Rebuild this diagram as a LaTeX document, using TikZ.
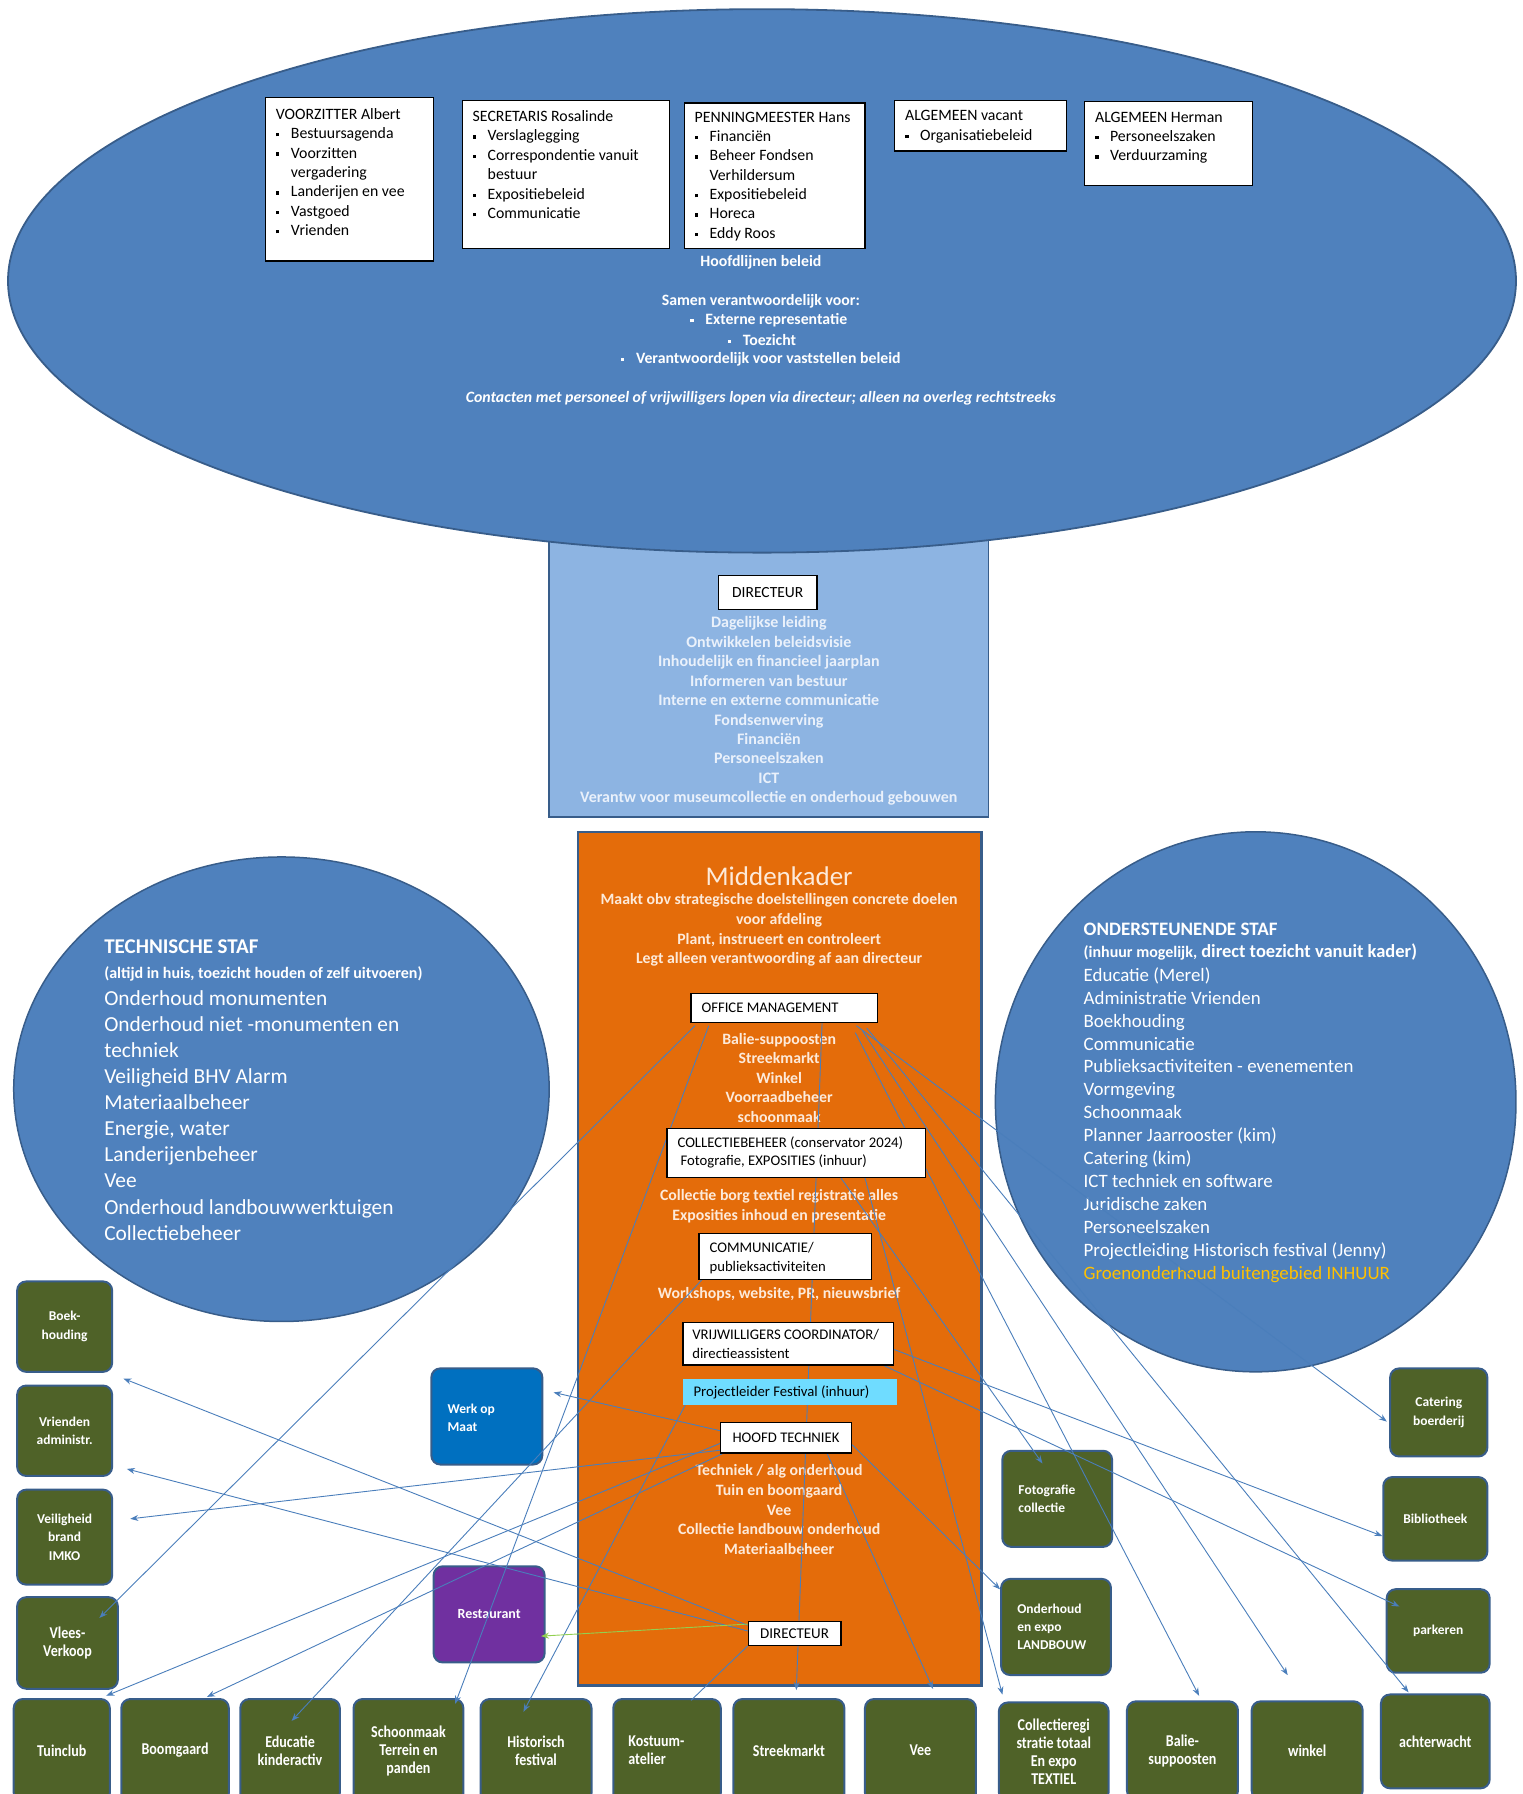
\documentclass[tikz,border=0pt]{standalone}
\usepackage{fontspec}
\setmainfont{Carlito}
\newfontfamily\condf[FakeStretch=0.85]{Carlito}
\usetikzlibrary{fit,arrows.meta,calc}
\definecolor{elblue}{HTML}{4F81BD}
\definecolor{bdblue}{HTML}{385D8A}
\definecolor{ltblue}{HTML}{8DB4E2}
\definecolor{orng}{HTML}{E46C0A}
\definecolor{olive}{HTML}{4F6228}
\definecolor{wom}{HTML}{0070C0}
\definecolor{purp}{HTML}{7030A0}
\definecolor{cyanb}{HTML}{6FDCFF}
\definecolor{gold}{HTML}{FFC000}
\definecolor{lnblue}{HTML}{4A7EBB}
\definecolor{lngreen}{HTML}{92D050}
\definecolor{dirtxt}{HTML}{EAF1FB}
\definecolor{ortxt}{HTML}{FDEADA}
\pgfdeclarelayer{bg}
\pgfdeclarelayer{lines}
\pgfsetlayers{bg,lines,main}
\newcommand\fsz[2]{\fontsize{#1}{#2}\selectfont}
\newcommand\bl{\makebox[15pt][l]{\raisebox{0.3ex}{\rule{3.4pt}{3.4pt}}}}
\newcommand\ind{\hspace*{15pt}}
% box shape node + centred text node
\newcommand\tbox[5]{\node[#1,fit={#2}] (#3) {}; \node[#4] (t#3) at (#3.center) {#5};}
\begin{document}
\begin{tikzpicture}[x=1.1443pt,y=-1.1443pt,
  topbox/.style={draw=black,line width=1.3pt,fill=white,inner sep=0pt},
  toptxt/.style={anchor=north west,inner sep=0pt,align=left,font=\fsz{15.8}{19.4}},
  eltxt/.style={inner sep=0pt,text=white,font=\bfseries\fsz{15.8}{18}},
  wbox/.style={draw=black,line width=1.2pt,fill=white,inner sep=0pt},
  wtxt/.style={inner sep=0pt,align=left,font=\fsz{14.7}{18.3}},
  ortx/.style={inner sep=0pt,align=center,text=ortxt,font=\bfseries\fsz{15.8}{19.6}},
  gbox/.style={draw=bdblue,line width=2pt,fill=olive,rounded corners=9pt,inner sep=0pt},
  gt/.style={inner sep=0pt,text=white,align=center,font=\bfseries\fsz{13.5}{18.5}},
  gct/.style={gt,font=\condf\bfseries\fsz{16.5}{18}},
  gtxt/.style={inner sep=0pt,text=white,align=left,font=\bfseries\fsz{13.5}{18}},
  conn/.style={draw=lnblue,line width=0.9pt,-{Stealth[length=8pt,width=6pt]}},
  plainconn/.style={draw=lnblue,line width=0.9pt},
  gconn/.style={draw=lngreen,line width=0.9pt,-{Stealth[length=8pt,width=6pt]}}]
\useasboundingbox (0,0) rectangle (1331,1568);

\begin{pgfonlayer}{bg}
% directeur block
\draw[draw=bdblue,line width=1.5pt,fill=ltblue] (480,420) rectangle (864,714);
% bestuur ellipse
\draw[draw=bdblue,line width=1.8pt,fill=elblue] (666,245.5) ellipse [x radius=659,y radius=237.5];
\node[topbox,fit={(232,85) (379,228)}] (bvoor) {};
\node[toptxt] (tvoor) at (241,94.5) {VOORZITTER Albert\\\bl Bestuursagenda\\\bl Voorzitten\\\ind vergadering\\\bl Landerijen en vee\\\bl Vastgoed\\\bl Vrienden};
\node[topbox,fit={(404,88) (585,217)}] (bsec) {};
\node[toptxt] (tsec) at (413,96.5) {SECRETARIS Rosalinde\\\bl Verslaglegging\\\bl Correspondentie vanuit\\\ind bestuur\\\bl Expositiebeleid\\\bl Communicatie};
\node[topbox,fit={(598,90) (756,217)}] (bpen) {};
\node[toptxt] (tpen) at (607,97.5) {PENNINGMEESTER Hans\\\bl Financi\"en\\\bl Beheer Fondsen\\\ind Verhildersum\\\bl Expositiebeleid\\\bl Horeca\\\bl Eddy Roos};
\node[topbox,fit={(782,88) (932,132)}] (balg1) {};
\node[toptxt] (talg1) at (791,96.5) {ALGEMEEN vacant\\\bl Organisatiebeleid};
\node[topbox,fit={(948,89) (1095,162)}] (balg2) {};
\node[toptxt] (talg2) at (957,97.5) {ALGEMEEN Herman\\\bl Personeelszaken\\\bl Verduurzaming};
\node[eltxt] (thoofdl) at (665,229) {Hoofdlijnen beleid};
\node[eltxt] (tsamen) at (665,263) {Samen verantwoordelijk voor:};
\node[eltxt] (text1) at (672,280) {\bl Externe representatie};
\node[eltxt] (text2) at (666,297) {\bl Toezicht};
\node[eltxt] (text3) at (665,314) {\bl Verantwoordelijk voor vaststellen beleid};
\node[eltxt,font=\bfseries\itshape\fsz{15.8}{18}] (tcont) at (665,348) {Contacten met personeel of vrijwilligers lopen via directeur; alleen na overleg rechtstreeks};
% directeur contents
\tbox{topbox,line width=1.2pt}{(628,503) (714,533)}{dir}{inner sep=0pt,font=\fsz{15.5}{17}}{DIRECTEUR}
\node[inner sep=0pt,align=center,text=dirtxt,font=\bfseries\fsz{16}{19.45}] (tdirl) at (672,621.5) {Dagelijkse leiding\\Ontwikkelen beleidsvisie\\Inhoudelijk en financieel jaarplan\\Informeren van bestuur\\Interne en externe communicatie\\Fondsenwerving\\Financi\"en\\Personeelszaken\\ICT\\Verantw voor museumcollectie en onderhoud gebouwen};
% middenkader
\draw[draw=bdblue,line width=2.5pt,fill=orng] (505,727) rectangle (858,1473);
\node[inner sep=0pt,text=ortxt,font=\fsz{27}{30}] (tmk) at (681,766) {Middenkader};
\node[ortx] (tmk2) at (681,813) {Maakt obv strategische doelstellingen concrete doelen\\voor afdeling\\Plant, instrueert en controleert\\Legt alleen verantwoording af aan directeur};
\node[ortx] (toffl) at (681,942) {Balie-suppoosten\\Streekmarkt\\Winkel\\Voorraadbeheer\\schoonmaak};
\node[ortx] (tcolll) at (681,1054) {Collectie borg textiel registratie alles\\Exposities inhoud en presentatie};
\node[ortx] (tcomml) at (681,1131) {Workshops, website, PR, nieuwsbrief};
\node[ortx] (thoofdll) at (681,1319.5) {Techniek / alg onderhoud\\Tuin en boomgaard\\Vee\\Collectie landbouw onderhoud\\Materiaalbeheer};
% technische staf
\draw[draw=bdblue,line width=1.5pt,fill=elblue] (246,952) ellipse [x radius=234,y radius=203];
\node[anchor=west,inner sep=0pt,text=white,font=\bfseries\fsz{21}{23}] (ttech) at (91,827) {TECHNISCHE STAF};
\node[anchor=west,inner sep=0pt,text=white,font=\bfseries\fsz{16}{18}] (ttech2) at (91,851) {(altijd in huis, toezicht houden of zelf uitvoeren)};
\node[anchor=north west,inner sep=0pt,align=left,text=white,font=\fsz{21.4}{26.1}] (ttech3) at (91,865.5) {Onderhoud monumenten\\Onderhoud niet -monumenten en\\techniek\\Veiligheid BHV Alarm\\Materiaalbeheer\\Energie, water\\Landerijenbeheer\\Vee\\Onderhoud landbouwwerktuigen\\Collectiebeheer};
% ondersteunende staf
\draw[draw=bdblue,line width=1.5pt,fill=elblue] (1097.5,963) ellipse [x radius=227.5,y radius=236];
\node[anchor=west,inner sep=0pt,text=white,font=\bfseries\fsz{19}{21}] (tond) at (947,812) {ONDERSTEUNENDE STAF};
\node[anchor=west,inner sep=0pt,text=white,font=\bfseries\fsz{18.5}{20}] (tond2) at (947,832) {{\fsz{16}{18}(inhuur mogelijk,} direct toezicht vanuit kader)};
\node[anchor=north west,inner sep=0pt,align=left,text=white,font=\fsz{18.9}{22.9}] (tond3) at (947,845.5) {Educatie (Merel)\\Administratie Vrienden\\Boekhouding\\Communicatie\\Publieksactiviteiten - evenementen\\Vormgeving\\Schoonmaak\\Planner Jaarrooster (kim)\\Catering (kim)\\ICT techniek en software\\Juridische zaken\\Personeelszaken\\Projectleiding Historisch festival (Jenny)\\\textcolor{gold}{Groenonderhoud buitengebied INHUUR}};
% left column boxes
\tbox{gbox}{(15,1120) (98,1199)}{boek}{gt}{Boek-\\houding}
\tbox{gbox}{(15,1211) (98,1290)}{vrien}{gt}{Vrienden\\administr.}
\tbox{gbox}{(15,1302) (98,1385)}{veil}{gt}{Veiligheid\\brand\\IMKO}
\tbox{gbox}{(15,1396) (103,1476)}{vlees}{gct}{Vlees-\\Verkoop}
% bottom row
\tbox{gbox}{(12,1485) (96,1575)}{tuin}{gct}{Tuinclub}
\tbox{gbox}{(106,1485) (200,1575)}{boom}{gct}{Boomgaard}
\tbox{gbox}{(210,1485) (297,1575)}{educ}{gct}{Educatie\\kinderactiv}
\tbox{gbox}{(309,1485) (405,1575)}{schoon}{gct}{Schoonmaak\\Terrein en\\panden}
\tbox{gbox}{(420,1485) (517,1575)}{hist}{gct}{Historisch\\festival}
\node[gbox,fit={(536,1485) (630,1575)}] (kost) {};
\node[gtxt,anchor=west,font=\condf\bfseries\fsz{16.5}{18}] (tkost) at (549,1530) {Kostuum-\\atelier};
\tbox{gbox}{(641,1485) (738,1575)}{streek}{gct}{Streekmarkt}
\tbox{gbox}{(756,1485) (853,1575)}{vee}{gct}{Vee}
\tbox{gbox}{(873,1488) (969,1574)}{collreg}{gct}{Collectieregi\\stratie totaal\\En expo\\TEXTIEL}
\tbox{gbox}{(985,1487) (1082,1573)}{balie}{gct}{Balie-\\suppoosten}
\tbox{gbox}{(1094,1487) (1191,1573)}{winkel}{gct}{winkel}
\tbox{gbox}{(1207,1481) (1302,1563)}{achter}{gct}{achterwacht}
% right boxes
\tbox{gbox}{(1215,1196) (1300,1273)}{cater}{gt}{Catering\\boerderij}
\node[gbox,fit={(876,1268) (972,1352)}] (foto) {};
\node[gtxt,anchor=west] (tfoto) at (890,1310) {Fotografie\\collectie};
\tbox{gbox}{(1209,1291) (1300,1364)}{biblio}{gt}{Bibliotheek}
\node[gbox,fit={(875,1380) (971,1464)}] (landb) {};
\node[gtxt,anchor=west] (tlandb) at (889,1422) {Onderhoud\\en expo\\LANDBOUW};
\tbox{gbox}{(1212,1389) (1302,1462)}{park}{gt}{parkeren}
% middle boxes
\node[gbox,fill=wom,fit={(377,1196) (474,1280)}] (werk) {};
\node[gtxt,anchor=west] (twerk) at (391,1239) {Werk op\\Maat};
\tbox{gbox,fill=purp}{(379,1369) (476,1453)}{rest}{gt,font=\bfseries\fsz{14}{18}}{Restaurant}
\end{pgfonlayer}

% white boxes inside middenkader (above connectors)
\node[wbox,fit={(604,868) (767,894)}] (office) {};
\node[wtxt,anchor=west] (toffice) at (613,881) {OFFICE MANAGEMENT};
\node[wbox,fit={(583,986) (809,1029)}] (coll) {};
\node[wtxt,anchor=north west] (tcoll) at (592,993) {COLLECTIEBEHEER (conservator 2024)\\\hspace*{3pt}Fotografie, EXPOSITIES (inhuur)};
\node[wbox,fit={(611,1078) (762,1118)}] (comm) {};
\node[wtxt,anchor=north west] (tcomm) at (620,1086) {COMMUNICATIE/\\publieksactiviteiten};
\node[wbox,fit={(597,1156) (781,1193)}] (vrij) {};
\node[wtxt,anchor=north west] (tvrij) at (605,1162) {VRIJWILLIGERS COORDINATOR/\\directieassistent};
\node[fill=cyanb,inner sep=0pt,fit={(597,1205) (784,1228)}] (projl) {};
\node[wtxt,anchor=west] (tprojl) at (606,1217) {Projectleider Festival (inhuur)};
\tbox{wbox}{(630,1243) (744,1270)}{hoofd}{wtxt}{HOOFD TECHNIEK}
\tbox{wbox}{(654,1417) (735,1438)}{dirs}{wtxt,font=\fsz{15}{16}}{DIRECTEUR}

\begin{pgfonlayer}{lines}
\draw[conn] ($(office.south west)+(4,2)$) -- ($(vlees.north east)+(-17,19)$);
\draw[conn] ($(office.south west)+(16,2)$) -- ($(schoon.north east)+(-8,5)$);
\draw[conn] ($(comm.south west)+(3,0)$) -- ($(educ.north east)+(-43,20)$);
\draw[conn] ($(projl.south west)+(2,0)$) -- ($(hist.north)+(-11,12)$);
\draw[conn] ($(hoofd.west)+(0,-6)$) -- ($(werk.east)+(9,-21)$);
\draw[conn] ($(hoofd.south west)+(0,-3)$) -- ($(veil.east)+(15,-16)$);
\draw[conn] ($(hoofd.west)+(0,5)$) -- ($(tuin.north east)+(-4,-2)$);
\draw[conn] ($(hoofd.south west)+(2,0)$) -- ($(boom.north east)+(-20,-1)$);
\draw[conn] ($(dirs.west)+(0,-7)$) -- ($(boek.south east)+(9,5)$);
\draw[conn] ($(dirs.west)+(0,-2)$) -- ($(vrien.south east)+(12,-7)$);
\draw[gconn] ($(dirs.north west)+(0,3)$) -- ($(rest.east)+(-4,19)$);
\draw[plainconn] (dirs.south west) -- ($(kost.north)+(21,2)$);
\draw[conn] ($(office.south)+(33,0)$) -- ($(streek.north)+(6.5,-7)$);
\draw[conn] ($(hoofd.south)+(36,0)$) -- ($(vee.north)+(11,-8)$);
\draw[conn] ($(hoofd.south east)+(0,-8)$) -- ($(landb.north west)+(0,10)$);
\draw[conn] ($(coll.south)+(60,0)$) -- ($(collreg.north west)+(4,-6)$);
\draw[conn] ($(coll.south)+(39,0)$) -- ($(foto.north west)+(36,12)$);
\draw[conn] ($(office.south east)+(-19,2)$) -- ($(cater.west)+(-2,8)$);
\draw[conn] ($(office.south east)+(-10,4)$) -- ($(achter.north west)+(25,-1)$);
\draw[conn] ($(office.south east)+(-14,6)$) -- ($(winkel.north)+(-17,-22)$);
\draw[conn] ($(office.south east)+(-20,8)$) -- ($(balie.north)+(14.5,-4)$);
\draw[conn] ($(vrij.east)+(0,5)$) -- ($(biblio.west)+(0,15)$);
\draw[conn] ($(vrij.south east)+(-9,0)$) -- ($(park.north west)+(12,16)$);
\end{pgfonlayer}
\end{tikzpicture}
\end{document}
